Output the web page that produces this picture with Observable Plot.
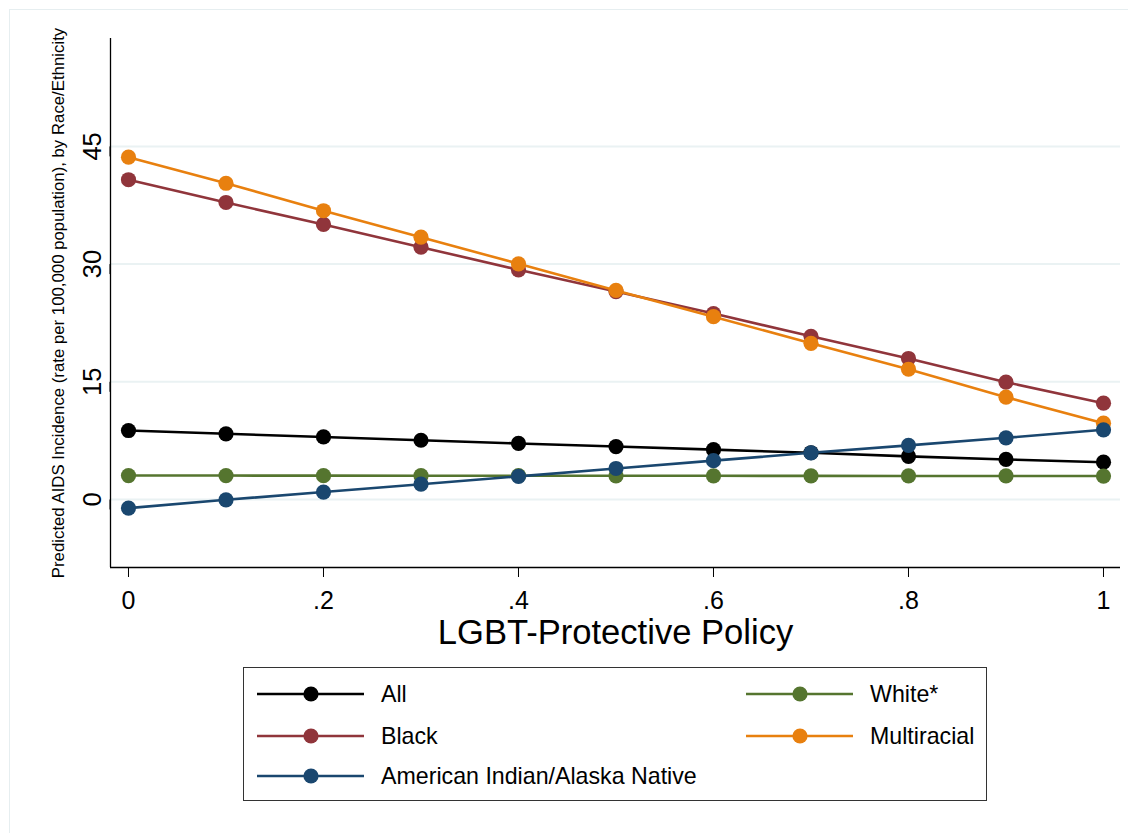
<!DOCTYPE html>
<html>
<head>
<meta charset="utf-8">
<script src="https://cdn.jsdelivr.net/npm/d3@7"></script>
<script src="https://cdn.jsdelivr.net/npm/@observablehq/plot@0.6"></script>
<style>
  html, body { margin: 0; padding: 0; background: #fff; }
  #wrap { position: relative; width: 1128px; height: 833px; overflow: hidden; font-family: "Liberation Sans", Arial, sans-serif; }
  #frame { position: absolute; left: 9px; top: 9px; width: 1140px; height: 840px; border: 1.5px solid #e6eef0; box-sizing: border-box; }
  #chart { position: absolute; left: 0; top: 0; }
  #legend { position: absolute; left: 243px; top: 667px; width: 744px; height: 134px; border: 1.5px solid #333; box-sizing: border-box; background: #fff; }
  .item { position: absolute; height: 30px; display: flex; align-items: center; }
  .item span { font-size: 23.2px; color: #000; margin-left: 16px; }
</style>
</head>
<body>
<div id="wrap">
  <div id="frame"></div>
  <div id="chart"></div>
  <div id="legend"></div>
</div>
<script>
// ---- data ----
const policy = [0, 0.1, 0.2, 0.3, 0.4, 0.5, 0.6, 0.7, 0.8, 0.9, 1];
const seriesNames = ["All", "White*", "Black", "Multiracial", "American Indian/Alaska Native"];
const allVals   = [8.79, 8.37, 7.97, 7.55, 7.14, 6.75, 6.35, 5.96, 5.50, 5.10, 4.75];
const whiteVals = [3.05, 3.05, 3.04, 3.03, 3.03, 3.02, 3.02, 3.01, 3.00, 3.00, 2.99];
const blackVals = [40.75, 37.85, 35.05, 32.16, 29.27, 26.5, 23.7, 20.8, 17.97, 14.95, 12.27];
const multiVals = [43.63, 40.3, 36.8, 33.43, 30.04, 26.64, 23.3, 19.9, 16.6, 13.04, 9.72];
const aianVals  = [-1.1, -0.04, 0.95, 1.95, 2.95, 3.95, 4.95, 5.95, 6.9, 7.86, 8.88];
const seriesColors = ["#000000", "#55752f", "#90353b", "#e8800f", "#1a476f"];
const yTicks = [0, 15, 30, 45];
const xTicks = [0, 0.2, 0.4, 0.6, 0.8, 1];
const xTitle = "LGBT-Protective Policy";
const yTitle = "Predicted AIDS Incidence (rate per 100,000 population), by Race/Ethnicity";

const valueLists = [allVals, whiteVals, blackVals, multiVals, aianVals];
const rows = [];
seriesNames.forEach((s, i) => policy.forEach((p, j) => rows.push({series: s, policy: p, value: valueLists[i][j]})));

const xDomain = [-0.01846, 1.01744];
const yDomain = [-8.667, 58.75];

const colorChannel = {value: d => d.series, scale: "color"};

const marks = [
  Plot.ruleY(yTicks, {stroke: "#eaf2f3", strokeWidth: 2}),
  Plot.ruleX([xDomain[0]], {stroke: "#000", strokeWidth: 1.3}),
  Plot.ruleY([yDomain[0]], {stroke: "#000", strokeWidth: 1.3}),
  Plot.axisY({ticks: yTicks, tickSize: 10, tickPadding: 8, tickFormat: d => String(d), rotate: -90, textAnchor: "middle", fontSize: 25.5, label: null, stroke: "#000"}),
  Plot.axisX({ticks: xTicks, tickSize: 10, tickPadding: 14, fontSize: 25, label: null,
    tickFormat: d => d === 0 ? "0" : d === 1 ? "1" : String(+d.toFixed(1)).replace(/^0\./, ".")}),
  Plot.text([yTitle], {frameAnchor: "left", rotate: -90, dx: -52, fontSize: 16.8, textAnchor: "middle", fill: "#000"}),
  Plot.text([xTitle], {frameAnchor: "bottom", dy: 65, fontSize: 34.6, lineAnchor: "middle", fill: "#000"})
];
seriesNames.forEach((s) => {
  const sub = rows.filter(r => r.series === s);
  marks.push(Plot.line(sub, {x: "policy", y: "value", stroke: colorChannel, strokeWidth: 2.6}));
  marks.push(Plot.dot(sub, {x: "policy", y: "value", fill: colorChannel, r: 7.6, stroke: "none"}));
});

const chart = Plot.plot({
  width: 1128,
  height: 660,
  marginLeft: 110,
  marginRight: 8,
  marginTop: 38,
  marginBottom: 93,
  style: {fontFamily: "'Liberation Sans', Arial, sans-serif", color: "#000", background: "transparent"},
  x: {domain: xDomain},
  y: {domain: yDomain},
  color: {type: "ordinal", domain: seriesNames, range: seriesColors},
  marks
});
document.getElementById("chart").appendChild(chart);

// ---- legend ----
const legend = document.getElementById("legend");
const colX = [13, 502];
const rowY = [26, 68, 108];
seriesNames.forEach((s, i) => {
  const col = i % 2, row = Math.floor(i / 2);
  const item = document.createElement("div");
  item.className = "item";
  item.style.left = colX[col] + "px";
  item.style.top = (rowY[row] - 15) + "px";
  const c = seriesColors[i];
  item.innerHTML = `<svg width="108" height="30"><line x1="0" x2="107" y1="15" y2="15" stroke="${c}" stroke-width="2.6"/><circle cx="54" cy="15" r="7.6" fill="${c}"/></svg><span>${s}</span>`;
  legend.appendChild(item);
});
</script>
</body>
</html>
